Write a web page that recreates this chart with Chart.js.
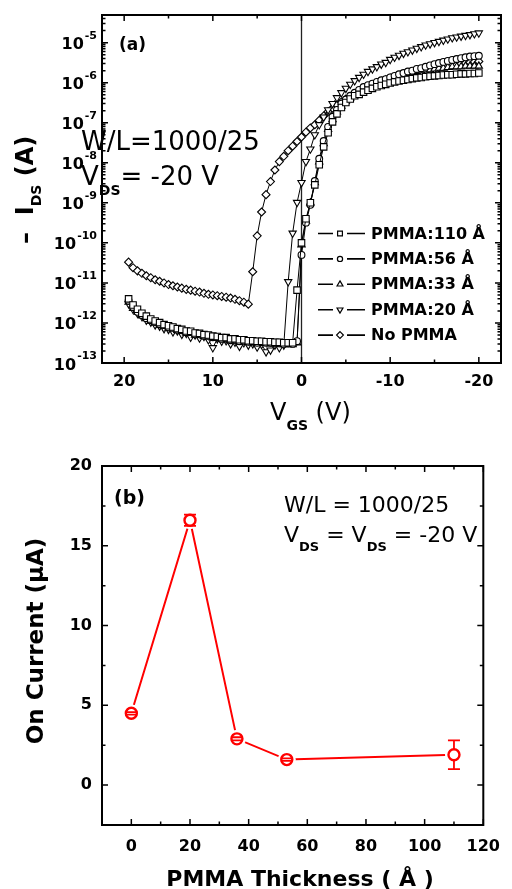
<!DOCTYPE html>
<html lang="en">
<head>
<meta charset="UTF-8">
<title>PMMA interlayer: transfer curves and on current</title>
<script src="https://cdn.jsdelivr.net/npm/chart.js@4/dist/chart.umd.min.js"></script>
<style>
  html, body { margin: 0; padding: 0; background: #fff; }
  body { width: 512px; height: 889px; position: relative; overflow: hidden; }
  canvas { position: absolute; left: 0; }
  #chartA { top: 0; }
  #chartB { top: 440px; }
</style>
</head>
<body>
<canvas id="chartA" width="512" height="440"></canvas>
<canvas id="chartB" width="512" height="449"></canvas>
<script>
// ---------- (a) transfer curves: -I_DS (A) against V_GS (V) ----------
// rows of ten points: 19.5..15, 14.5..10, 9.5..5, 4.5..0, -0.5..-5, -5.5..-10, -10.5..-15, -15.5..-20
var vgs = [
    19.5, 19, 18.5, 18, 17.5, 17, 16.5, 16, 15.5, 15,
    14.5, 14, 13.5, 13, 12.5, 12, 11.5, 11, 10.5, 10,
    9.5, 9, 8.5, 8, 7.5, 7, 6.5, 6, 5.5, 5,
    4.5, 4, 3.5, 3, 2.5, 2, 1.5, 1, 0.5, 0,
    -0.5, -1, -1.5, -2, -2.5, -3, -3.5, -4, -4.5, -5,
    -5.5, -6, -6.5, -7, -7.5, -8, -8.5, -9, -9.5, -10,
    -10.5, -11, -11.5, -12, -12.5, -13, -13.5, -14, -14.5, -15,
    -15.5, -16, -16.5, -17, -17.5, -18, -18.5, -19, -19.5, -20
];

var idsPmma110 = [
    4.0e-12, 2.8e-12, 2.2e-12, 1.74e-12, 1.48e-12, 1.26e-12, 1.12e-12, 1.02e-12, 9.1e-13, 8.5e-13,
    7.9e-13, 7.2e-13, 6.9e-13, 6.3e-13, 6.2e-13, 5.6e-13, 5.5e-13, 5.1e-13, 5.0e-13, 4.7e-13,
    4.6e-13, 4.3e-13, 4.3e-13, 4.0e-13, 4.0e-13, 3.8e-13, 3.8e-13, 3.6e-13, 3.6e-13, 3.5e-13,
    3.5e-13, 3.4e-13, 3.4e-13, 3.3e-13, 3.3e-13, 3.2e-13, 3.2e-13, 3.2e-13, 6.6e-12, 1.0e-10,
    4.0e-10, 1.0e-9, 2.8e-9, 8.9e-9, 2.5e-8, 5.6e-8, 1.05e-7, 1.66e-7, 2.4e-7, 3.2e-7,
    3.9e-7, 4.7e-7, 5.1e-7, 5.8e-7, 6.5e-7, 7.2e-7, 7.9e-7, 8.5e-7, 9.1e-7, 9.8e-7,
    1.05e-6, 1.10e-6, 1.15e-6, 1.20e-6, 1.26e-6, 1.32e-6, 1.35e-6, 1.41e-6, 1.45e-6, 1.48e-6,
    1.51e-6, 1.55e-6, 1.58e-6, 1.58e-6, 1.62e-6, 1.66e-6, 1.66e-6, 1.70e-6, 1.70e-6, 1.74e-6
];

var idsPmma56 = [
    3.6e-12, 2.5e-12, 1.9e-12, 1.58e-12, 1.32e-12, 1.17e-12, 1.05e-12, 9.3e-13, 8.9e-13, 7.8e-13,
    7.6e-13, 6.8e-13, 6.6e-13, 5.9e-13, 5.9e-13, 5.2e-13, 5.2e-13, 4.8e-13, 4.8e-13, 4.4e-13,
    4.4e-13, 4.0e-13, 4.1e-13, 3.7e-13, 3.8e-13, 3.5e-13, 3.6e-13, 3.4e-13, 3.5e-13, 3.2e-13,
    3.3e-13, 3.2e-13, 3.2e-13, 3.1e-13, 3.2e-13, 3.0e-13, 3.1e-13, 3.0e-13, 3.5e-13, 5.0e-11,
    3.2e-10, 8.9e-10, 3.5e-9, 1.26e-8, 3.5e-8, 7.9e-8, 1.41e-7, 2.1e-7, 3.0e-7, 3.8e-7,
    4.7e-7, 5.6e-7, 6.6e-7, 7.8e-7, 8.7e-7, 9.5e-7, 1.05e-6, 1.15e-6, 1.23e-6, 1.35e-6,
    1.48e-6, 1.62e-6, 1.74e-6, 1.9e-6, 2.0e-6, 2.2e-6, 2.3e-6, 2.5e-6, 2.7e-6, 2.9e-6,
    3.1e-6, 3.3e-6, 3.5e-6, 3.7e-6, 3.9e-6, 4.1e-6, 4.3e-6, 4.5e-6, 4.6e-6, 4.7e-6
];

var idsPmma33 = [
    3.3e-12, 2.3e-12, 1.86e-12, 1.51e-12, 1.29e-12, 1.12e-12, 1.0e-12, 8.9e-13, 8.3e-13, 7.4e-13,
    7.1e-13, 6.5e-13, 6.2e-13, 5.6e-13, 5.5e-13, 5.0e-13, 4.9e-13, 4.6e-13, 4.5e-13, 4.2e-13,
    4.1e-13, 3.9e-13, 3.8e-13, 3.6e-13, 3.5e-13, 3.5e-13, 3.4e-13, 3.3e-13, 3.2e-13, 3.2e-13,
    3.2e-13, 3.1e-13, 3.0e-13, 3.0e-13, 2.9e-13, 2.9e-13, 2.9e-13, 2.9e-13, 3.2e-13, 8.9e-11,
    3.5e-10, 1.0e-9, 3.2e-9, 1.05e-8, 3.0e-8, 6.8e-8, 1.2e-7, 1.86e-7, 2.6e-7, 3.4e-7,
    4.2e-7, 5.0e-7, 5.9e-7, 6.8e-7, 7.8e-7, 8.7e-7, 9.8e-7, 1.07e-6, 1.17e-6, 1.29e-6,
    1.38e-6, 1.48e-6, 1.58e-6, 1.7e-6, 1.78e-6, 1.9e-6, 2.0e-6, 2.1e-6, 2.1e-6, 2.2e-6,
    2.3e-6, 2.3e-6, 2.4e-6, 2.5e-6, 2.5e-6, 2.5e-6, 2.6e-6, 2.6e-6, 2.6e-6, 2.6e-6
];

var idsPmma20 = [
    3.0e-12, 2.2e-12, 1.74e-12, 1.45e-12, 1.17e-12, 1.05e-12, 8.9e-13, 8.3e-13, 7.2e-13, 6.9e-13,
    6.0e-13, 6.3e-13, 5.2e-13, 5.5e-13, 4.4e-13, 5.0e-13, 4.2e-13, 4.6e-13, 3.8e-13, 2.4e-13,
    4.0e-13, 3.5e-13, 3.6e-13, 3.0e-13, 3.3e-13, 2.6e-13, 3.2e-13, 2.8e-13, 3.0e-13, 2.5e-13,
    2.9e-13, 1.9e-13, 2.1e-13, 2.8e-13, 2.4e-13, 2.8e-13, 1.07e-11, 1.74e-10, 1.02e-9, 3.2e-9,
    1.07e-8, 2.2e-8, 5.0e-8, 8.9e-8, 1.38e-7, 2.1e-7, 3.0e-7, 4.2e-7, 5.6e-7, 7.2e-7,
    9.1e-7, 1.12e-6, 1.35e-6, 1.62e-6, 1.9e-6, 2.2e-6, 2.5e-6, 2.9e-6, 3.2e-6, 3.8e-6,
    4.3e-6, 4.8e-6, 5.4e-6, 5.9e-6, 6.5e-6, 7.2e-6, 7.9e-6, 8.7e-6, 9.3e-6, 1.0e-5,
    1.07e-5, 1.15e-5, 1.23e-5, 1.32e-5, 1.38e-5, 1.45e-5, 1.51e-5, 1.58e-5, 1.66e-5, 1.74e-5
];

var idsNoPmma = [
    3.3e-11, 2.4e-11, 2.0e-11, 1.74e-11, 1.51e-11, 1.35e-11, 1.2e-11, 1.1e-11, 1.0e-11, 9.1e-12,
    8.5e-12, 7.9e-12, 7.4e-12, 6.9e-12, 6.6e-12, 6.2e-12, 5.9e-12, 5.5e-12, 5.2e-12, 5.0e-12,
    4.8e-12, 4.6e-12, 4.4e-12, 4.2e-12, 3.9e-12, 3.6e-12, 3.3e-12, 2.95e-12, 1.9e-11, 1.5e-10,
    5.9e-10, 1.6e-9, 3.4e-9, 6.6e-9, 1.07e-8, 1.45e-8, 2.0e-8, 2.6e-8, 3.4e-8, 4.4e-8,
    5.8e-8, 7.4e-8, 8.9e-8, 1.15e-7, 1.48e-7, 1.9e-7, 2.3e-7, 2.8e-7, 3.3e-7, 3.9e-7,
    4.5e-7, 5.1e-7, 5.8e-7, 6.5e-7, 7.2e-7, 7.9e-7, 8.7e-7, 9.5e-7, 1.05e-6, 1.12e-6,
    1.23e-6, 1.32e-6, 1.41e-6, 1.51e-6, 1.62e-6, 1.74e-6, 1.86e-6, 1.95e-6, 2.1e-6, 2.2e-6,
    2.3e-6, 2.45e-6, 2.6e-6, 2.7e-6, 2.8e-6, 2.95e-6, 3.1e-6, 3.2e-6, 3.3e-6, 3.4e-6
];

var legendLabels = ['PMMA:110 Å', 'PMMA:56 Å', 'PMMA:33 Å', 'PMMA:20 Å', 'No PMMA'];
var vgsTicks = [20, 10, 0, -10, -20];
var vgsMinorTicks = [15, 5, -5, -15];
var idsDecades = [-13, -12, -11, -10, -9, -8, -7, -6, -5];

// ---------- (b) on current against PMMA thickness ----------
var thickness = [0, 20, 36, 53, 110];
var onCurrent = [4.5, 16.6, 2.9, 1.6, 1.9];
var onCurrentErr = [0.08, 0.35, 0.1, 0.08, 0.9];
var thicknessTicks = [0, 20, 40, 60, 80, 100, 120];
var thicknessMinorTicks = [10, 30, 50, 70, 90, 110];
var currentTicks = [0, 5, 10, 15, 20];
var currentMinorTicks = [2.5, 7.5, 12.5, 17.5];

var FONT = '"DejaVu Sans", "Liberation Sans", sans-serif';
var RED = '#ff0000';

function drawRich(ctx, x, y, parts) {
    parts.forEach(function (p) {
        ctx.font = p.font;
        ctx.fillText(p.t, x, y + (p.dy || 0));
        x += ctx.measureText(p.t).width;
    });
    return x;
}

function richWidth(ctx, parts) {
    var w = 0;
    parts.forEach(function (p) {
        ctx.font = p.font;
        w += ctx.measureText(p.t).width;
    });
    return w;
}

function drawMarker(ctx, style, rot, x, y, r) {
    ctx.beginPath();
    if (style === 'circle') {
        ctx.arc(x, y, r, 0, Math.PI * 2);
    } else if (style === 'rect') {
        var s = r * Math.SQRT1_2;
        ctx.rect(x - s, y - s, 2 * s, 2 * s);
    } else if (style === 'rectRot') {
        ctx.moveTo(x, y - r); ctx.lineTo(x + r, y); ctx.lineTo(x, y + r); ctx.lineTo(x - r, y); ctx.closePath();
    } else if (style === 'triangle') {
        var a = rot * Math.PI / 180;
        for (var k = 0; k < 3; k++) {
            var px = x + Math.sin(a) * r, py = y - Math.cos(a) * r;
            if (k === 0) ctx.moveTo(px, py); else ctx.lineTo(px, py);
            a += Math.PI * 2 / 3;
        }
        ctx.closePath();
    }
    ctx.fillStyle = '#fff';
    ctx.fill();
    ctx.stroke();
}

// box round the plot with Origin style inward ticks on all four sides
function makeFrame(cfg) {
    return {
        id: 'frame',
        beforeDatasetsDraw: function (chart) {
            if (cfg.zeroLine === undefined) return;
            var ctx = chart.ctx, a = chart.chartArea;
            var x = chart.scales.x.getPixelForValue(cfg.zeroLine);
            ctx.save();
            ctx.strokeStyle = '#222';
            ctx.lineWidth = 1.3;
            ctx.beginPath();
            ctx.moveTo(x, a.top);
            ctx.lineTo(x, a.bottom);
            ctx.stroke();
            ctx.restore();
        },
        afterDatasetsDraw: function (chart) {
            var ctx = chart.ctx, a = chart.chartArea;
            var xs = chart.scales.x, ys = chart.scales.y;
            ctx.save();
            ctx.strokeStyle = '#000';
            ctx.lineWidth = 1.5;
            ctx.beginPath();
            function xt(list, len) {
                list.forEach(function (v) {
                    var p = xs.getPixelForValue(v);
                    ctx.moveTo(p, a.bottom); ctx.lineTo(p, a.bottom - len);
                    ctx.moveTo(p, a.top); ctx.lineTo(p, a.top + len);
                });
            }
            function yt(list, len) {
                list.forEach(function (v) {
                    var p = ys.getPixelForValue(v);
                    ctx.moveTo(a.left, p); ctx.lineTo(a.left + len, p);
                    ctx.moveTo(a.right, p); ctx.lineTo(a.right - len, p);
                });
            }
            xt(cfg.xMajor, 6);
            xt(cfg.xMinor, 3.5);
            yt(cfg.yMajor, 6);
            yt(cfg.yMinor, 3.5);
            ctx.stroke();
            ctx.lineWidth = 2;
            ctx.strokeRect(a.left, a.top, a.right - a.left, a.bottom - a.top);
            ctx.restore();
        }
    };
}

// ---------------- chart (a) ----------------
var idsMax = 4.9e-5;
var idsMinor = [];
idsDecades.forEach(function (e) {
    for (var k = 2; k <= 9; k++) {
        if (k * Math.pow(10, e) < idsMax) idsMinor.push(k * Math.pow(10, e));
    }
});

var seriesA = [
    { label: legendLabels[0], data: idsPmma110, style: 'rect', rot: 0, r: 4.6 },
    { label: legendLabels[1], data: idsPmma56, style: 'circle', rot: 0, r: 3.4 },
    { label: legendLabels[2], data: idsPmma33, style: 'triangle', rot: 0, r: 4.2 },
    { label: legendLabels[3], data: idsPmma20, style: 'triangle', rot: 180, r: 4.2 },
    { label: legendLabels[4], data: idsNoPmma, style: 'rectRot', rot: 0, r: 4 }
];

var textA = {
    id: 'textA',
    afterDraw: function (chart) {
        var ctx = chart.ctx, ys = chart.scales.y;
        ctx.save();
        ctx.fillStyle = '#000';
        ctx.textBaseline = 'alphabetic';

        // log tick labels 10^n
        idsDecades.forEach(function (e) {
            var y = ys.getPixelForValue(Math.pow(10, e));
            ctx.textAlign = 'right';
            ctx.font = 'bold 11px ' + FONT;
            var sup = String(e);
            var supW = ctx.measureText(sup).width;
            ctx.fillText(sup, 97, y - 4);
            ctx.font = 'bold 16px ' + FONT;
            ctx.fillText('10', 96 - supW, y + 6.5);
        });
        ctx.textAlign = 'left';

        ctx.font = 'bold 17px ' + FONT;
        ctx.fillText('(a)', 119, 50);

        ctx.font = '26px ' + FONT;
        ctx.fillText('W/L=1000/25', 81, 150);
        drawRich(ctx, 81, 185, [
            { t: 'V', font: '26px ' + FONT },
            { t: 'DS', font: 'bold 14px ' + FONT, dy: 10 },
            { t: '= -20 V', font: '26px ' + FONT }
        ]);

        // x axis title
        drawRich(ctx, 270, 420, [
            { t: 'V', font: '24px ' + FONT },
            { t: 'GS', font: 'bold 14px ' + FONT, dy: 10 },
            { t: ' (V)', font: '24px ' + FONT }
        ]);

        // y axis title, rotated
        ctx.save();
        ctx.translate(33, 244);
        ctx.rotate(-Math.PI / 2);
        drawRich(ctx, 0, 0, [
            { t: '–  I', font: 'bold 24px ' + FONT },
            { t: 'DS', font: 'bold 14px ' + FONT, dy: 8 },
            { t: ' (A)', font: 'bold 24px ' + FONT }
        ]);
        ctx.restore();

        // legend
        ctx.strokeStyle = '#000';
        seriesA.forEach(function (s, i) {
            var y = 233.5 + i * 25.4;
            ctx.lineWidth = 1.6;
            ctx.beginPath();
            ctx.moveTo(318, y); ctx.lineTo(333, y);
            ctx.moveTo(347, y); ctx.lineTo(365, y);
            ctx.stroke();
            ctx.lineWidth = 1.2;
            drawMarker(ctx, s.style, s.rot, 340, y, s.style === 'circle' ? 2.6 : 3.4);
            ctx.fillStyle = '#000';
            ctx.font = 'bold 16px ' + FONT;
            ctx.textBaseline = 'middle';
            ctx.fillText(s.label, 371, y + 1);
            ctx.textBaseline = 'alphabetic';
        });
        ctx.restore();
    }
};

new Chart(document.getElementById('chartA'), {
    type: 'line',
    data: {
        datasets: seriesA.map(function (s) {
            return {
                label: s.label,
                data: vgs.map(function (v, i) { return { x: v, y: s.data[i] }; }),
                borderColor: '#000',
                borderWidth: 1,
                pointStyle: s.style,
                rotation: s.rot,
                pointRadius: s.r,
                pointBorderWidth: 1.1,
                pointBorderColor: '#000',
                pointBackgroundColor: '#fff',
                tension: 0
            };
        })
    },
    options: {
        responsive: false,
        maintainAspectRatio: false,
        animation: false,
        events: [],
        layout: { padding: { top: 15, right: 11, left: 0, bottom: 0 } },
        plugins: { legend: { display: false }, tooltip: { enabled: false } },
        scales: {
            x: {
                type: 'linear',
                min: -22.5,
                max: 22.5,
                reverse: true,
                grid: { display: false, drawTicks: false },
                border: { display: false },
                afterBuildTicks: function (scale) {
                    scale.ticks = vgsTicks.map(function (v) { return { value: v }; });
                },
                afterFit: function (scale) { scale.height = 77; },
                ticks: {
                    autoSkip: false,
                    maxRotation: 0,
                    padding: 9,
                    color: '#000',
                    font: { family: FONT, weight: 'bold', size: 16 },
                    callback: function (v) { return String(v); }
                }
            },
            y: {
                type: 'logarithmic',
                min: 1e-13,
                max: idsMax,
                grid: { display: false, drawTicks: false },
                border: { display: false },
                afterBuildTicks: function (scale) {
                    scale.ticks = idsDecades.map(function (e) { return { value: Math.pow(10, e) }; });
                },
                afterFit: function (scale) { scale.width = 102; },
                ticks: { display: false }
            }
        }
    },
    plugins: [makeFrame({
        xMajor: vgsTicks, xMinor: vgsMinorTicks,
        yMajor: idsDecades.map(function (e) { return Math.pow(10, e); }),
        yMinor: idsMinor,
        zeroLine: 0
    }), textA]
});

// ---------------- chart (b) ----------------
var markerR = 5.5;

var errorBars = {
    id: 'errorBars',
    beforeDatasetDraw: function (chart, args) {
        if (args.index !== 0) return;
        var ctx = chart.ctx, xs = chart.scales.x, ys = chart.scales.y;
        ctx.save();
        // the line stops short of each marker
        ctx.fillStyle = '#fff';
        thickness.forEach(function (t, i) {
            ctx.beginPath();
            ctx.arc(xs.getPixelForValue(t), ys.getPixelForValue(onCurrent[i]), markerR + 3.5, 0, Math.PI * 2);
            ctx.fill();
        });
        ctx.strokeStyle = RED;
        ctx.lineWidth = 1.8;
        thickness.forEach(function (t, i) {
            var x = xs.getPixelForValue(t);
            var yc = ys.getPixelForValue(onCurrent[i]);
            var y1 = ys.getPixelForValue(onCurrent[i] + onCurrentErr[i]);
            var y2 = ys.getPixelForValue(onCurrent[i] - onCurrentErr[i]);
            ctx.beginPath();
            if (yc - y1 > markerR) {
                ctx.moveTo(x, y1); ctx.lineTo(x, yc - markerR);
                ctx.moveTo(x, yc + markerR); ctx.lineTo(x, y2);
            }
            ctx.moveTo(x - 6, y1); ctx.lineTo(x + 6, y1);
            ctx.moveTo(x - 6, y2); ctx.lineTo(x + 6, y2);
            ctx.stroke();
        });
        ctx.restore();
    }
};

var textB = {
    id: 'textB',
    afterDraw: function (chart) {
        var ctx = chart.ctx;
        ctx.save();
        ctx.fillStyle = '#000';
        ctx.textBaseline = 'alphabetic';
        ctx.textAlign = 'left';

        ctx.font = 'bold 19px ' + FONT;
        ctx.fillText('(b)', 114, 64);

        ctx.font = '22px ' + FONT;
        ctx.fillText('W/L = 1000/25', 284, 71.5);
        drawRich(ctx, 284, 101.5, [
            { t: 'V', font: '22px ' + FONT },
            { t: 'DS', font: 'bold 13px ' + FONT, dy: 9 },
            { t: ' = V', font: '22px ' + FONT },
            { t: 'DS', font: 'bold 13px ' + FONT, dy: 9 },
            { t: ' = -20 V', font: '22px ' + FONT }
        ]);

        // x axis title
        ctx.font = 'bold 22px ' + FONT;
        ctx.textAlign = 'center';
        ctx.fillText('PMMA Thickness ( Å )', 300, 446);
        ctx.textAlign = 'left';

        // y axis title, rotated
        var yt = [{ t: 'On Current (μA)', font: 'bold 23px ' + FONT }];
        var w = richWidth(ctx, yt);
        ctx.save();
        ctx.translate(43, 201 + w / 2);
        ctx.rotate(-Math.PI / 2);
        drawRich(ctx, 0, 0, yt);
        ctx.restore();
        ctx.restore();
    }
};

new Chart(document.getElementById('chartB'), {
    type: 'line',
    data: {
        datasets: [{
            label: 'On current markers',
            data: thickness.map(function (t, i) { return { x: t, y: onCurrent[i] }; }),
            showLine: false,
            pointStyle: 'circle',
            pointRadius: markerR,
            pointBorderWidth: 2.4,
            pointBorderColor: RED,
            pointBackgroundColor: 'rgba(255,255,255,0)'
        }, {
            label: 'On current',
            data: thickness.map(function (t, i) { return { x: t, y: onCurrent[i] }; }),
            borderColor: RED,
            borderWidth: 2,
            pointRadius: 0,
            tension: 0
        }]
    },
    options: {
        responsive: false,
        maintainAspectRatio: false,
        animation: false,
        events: [],
        layout: { padding: { top: 26, right: 20, left: 0, bottom: 0 } },
        plugins: { legend: { display: false }, tooltip: { enabled: false } },
        scales: {
            x: {
                type: 'linear',
                min: -10,
                max: 120,
                grid: { display: false, drawTicks: false },
                border: { display: false },
                afterBuildTicks: function (scale) {
                    scale.ticks = thicknessTicks.map(function (v) { return { value: v }; });
                },
                afterFit: function (scale) { scale.height = 64; },
                ticks: {
                    autoSkip: false,
                    maxRotation: 0,
                    padding: 12,
                    color: '#000',
                    font: { family: FONT, weight: 'bold', size: 16 },
                    callback: function (v) { return String(v); }
                }
            },
            y: {
                type: 'linear',
                min: -2.5,
                max: 20,
                grid: { display: false, drawTicks: false },
                border: { display: false },
                afterBuildTicks: function (scale) {
                    scale.ticks = currentTicks.map(function (v) { return { value: v }; });
                },
                afterFit: function (scale) { scale.width = 102; },
                ticks: {
                    autoSkip: false,
                    padding: 10,
                    color: '#000',
                    font: { family: FONT, weight: 'bold', size: 16 },
                    callback: function (v) { return String(v); }
                }
            }
        }
    },
    plugins: [makeFrame({
        xMajor: thicknessTicks, xMinor: thicknessMinorTicks,
        yMajor: currentTicks, yMinor: currentMinorTicks
    }), errorBars, textB]
});
</script>
</body>
</html>
